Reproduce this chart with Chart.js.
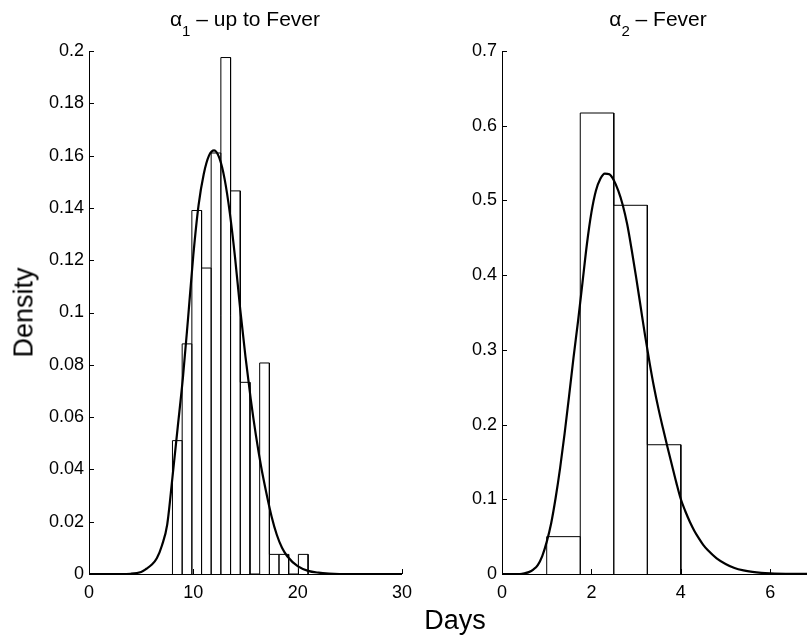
<!DOCTYPE html>
<html>
<head>
<meta charset="utf-8">
<title>Density of alpha1 and alpha2</title>
<script src="https://cdn.jsdelivr.net/npm/chart.js@4.4.1/dist/chart.umd.min.js"></script>
<style>
    html, body { margin: 0; padding: 0; background: #fff; overflow: hidden; }
    #page { position: relative; width: 807px; height: 644px; overflow: hidden; font-family: "Liberation Sans", Arial, sans-serif; color: #000; }
    .panel { position: absolute; top: 0; }
    .ttl { position: absolute; top: 9px; width: 320px; text-align: center; font-size: 21px; line-height: 20px; white-space: nowrap; }
    .ttl sub { font-size: 15px; vertical-align: -10px; line-height: 0; }
    #xlab { position: absolute; left: 355px; top: 607px; width: 200px; text-align: center; font-size: 27px; line-height: 27px; }
    #ylab { position: absolute; left: -51px; top: 299px; width: 150px; text-align: center; font-size: 27px; line-height: 27px; transform: rotate(-90deg); }
</style>
</head>
<body>
<div id="page">
    <canvas id="leftChart" class="panel" style="left:0px" width="420" height="610"></canvas>
    <canvas id="rightChart" class="panel" style="left:420px" width="420" height="610"></canvas>
    <div class="ttl" style="left:85px">&alpha;<sub>1</sub> &ndash; up to Fever</div>
    <div class="ttl" style="left:498px">&alpha;<sub>2</sub> &ndash; Fever</div>
    <div id="xlab">Days</div>
    <div id="ylab">Density</div>
</div>
<script>
// Histogram of alpha1 (days up to fever)
const upToFeverEdges = [8, 8.93, 9.86, 10.79, 11.71, 12.64, 13.57, 14.5, 15.43, 16.36, 17.29, 18.21, 19.14, 20.07, 21];
const upToFeverHeights = [0.051, 0.088, 0.139, 0.117, 0.161, 0.1975, 0.1465, 0.0733, 0, 0.0807, 0.0075, 0.0075, 0, 0.0075];

// Fitted density for alpha1
const upToFeverCurveX = [0, 3, 4, 5, 5.5, 6, 6.5, 7, 7.5, 8, 8.5, 9, 9.5, 10, 10.5, 11, 11.5, 12, 12.5, 13, 13.5, 14, 14.5, 15, 15.5, 16, 16.5, 17, 17.5, 18, 18.5, 19, 20, 21, 22, 23, 25, 30];
const upToFeverCurveY = [0, 0, 0.0001, 0.0008, 0.002, 0.0035, 0.006, 0.011, 0.019, 0.037, 0.056, 0.075, 0.098, 0.122, 0.141, 0.153, 0.160, 0.162, 0.159, 0.151, 0.138, 0.121, 0.101, 0.083, 0.067, 0.053, 0.041, 0.031, 0.022, 0.015, 0.010, 0.0068, 0.003, 0.0012, 0.0005, 0.0002, 0, 0];

// Histogram of alpha2 (fever)
const feverEdges = [1, 1.75, 2.5, 3.25, 4];
const feverHeights = [0.05, 0.617, 0.4935, 0.173];

// Fitted density for alpha2
const feverCurveX = [0, 0.4, 0.5, 0.6, 0.7, 0.8, 0.9, 1.0, 1.1, 1.2, 1.3, 1.4, 1.5, 1.6, 1.7, 1.8, 1.9, 2.0, 2.1, 2.2, 2.3, 2.4, 2.5, 2.6, 2.7, 2.8, 2.9, 3.0, 3.1, 3.2, 3.3, 3.4, 3.5, 3.6, 3.7, 3.8, 3.9, 4.0, 4.1, 4.2, 4.3, 4.4, 4.5, 4.6, 4.8, 5.0, 5.2, 5.4, 5.6, 5.8, 6.0, 6.5, 7];
const feverCurveY = [0, 0, 0.0008, 0.0025, 0.006, 0.012, 0.024, 0.043, 0.068, 0.102, 0.142, 0.188, 0.238, 0.290, 0.338, 0.390, 0.442, 0.484, 0.513, 0.529, 0.536, 0.535, 0.527, 0.513, 0.494, 0.468, 0.434, 0.397, 0.358, 0.319, 0.283, 0.250, 0.221, 0.195, 0.170, 0.146, 0.122, 0.100, 0.084, 0.070, 0.058, 0.048, 0.039, 0.032, 0.021, 0.0135, 0.008, 0.0048, 0.0028, 0.0016, 0.001, 0.0003, 0];

// Axis ranges and tick steps
const upToFeverAxis = { xMax: 30, xStep: 10, yMax: 0.2, yStep: 0.02 };
const feverAxis = { xMax: 7, xStep: 2, yMax: 0.7, yStep: 0.1 };

// Outline of histogram bars as a polyline
function histOutline(edges, heights) {
    const pts = [];
    heights.forEach((h, i) => {
        pts.push({ x: edges[i], y: 0 });
        pts.push({ x: edges[i], y: h });
        pts.push({ x: edges[i + 1], y: h });
        pts.push({ x: edges[i + 1], y: 0 });
    });
    return pts;
}

// MATLAB-style tick marks pointing into the plot
const innerTicks = {
    id: 'innerTicks',
    afterDraw(chart) {
        const { ctx, chartArea, scales } = chart;
        ctx.save();
        ctx.strokeStyle = '#000';
        ctx.lineWidth = 1;
        ctx.beginPath();
        scales.x.ticks.forEach(t => {
            const px = Math.round(scales.x.getPixelForValue(t.value)) + 0.5;
            ctx.moveTo(px, chartArea.bottom);
            ctx.lineTo(px, chartArea.bottom - 5);
        });
        scales.y.ticks.forEach(t => {
            const py = Math.round(scales.y.getPixelForValue(t.value)) + 0.5;
            ctx.moveTo(chartArea.left, py);
            ctx.lineTo(chartArea.left + 5, py);
        });
        ctx.stroke();
        ctx.restore();
    }
};

function makePanel(id, edges, heights, curveX, curveY, axis, padLeft, padRight) {
    const font = { family: '"Liberation Sans", Arial, sans-serif', size: 18 };
    return new Chart(document.getElementById(id), {
        type: 'line',
        data: {
            datasets: [
                {
                    data: curveX.map((x, i) => ({ x, y: curveY[i] })),
                    borderColor: '#000',
                    borderWidth: 2.2,
                    pointRadius: 0,
                    cubicInterpolationMode: 'monotone',
                    fill: false
                },
                {
                    data: histOutline(edges, heights),
                    borderColor: '#000',
                    borderWidth: 1,
                    pointRadius: 0,
                    tension: 0,
                    fill: false
                }
            ]
        },
        options: {
            responsive: false,
            devicePixelRatio: 1,
            animation: false,
            layout: { padding: { left: padLeft, right: padRight, top: 51, bottom: 0 } },
            plugins: { legend: { display: false }, tooltip: { enabled: false } },
            scales: {
                x: {
                    type: 'linear',
                    min: 0,
                    max: axis.xMax,
                    grid: { display: false, drawTicks: false },
                    border: { display: true, color: '#000', width: 1 },
                    ticks: { stepSize: axis.xStep, includeBounds: false, color: '#000', font, padding: 8, maxRotation: 0 },
                    afterFit: s => { s.height = 36; }
                },
                y: {
                    type: 'linear',
                    min: 0,
                    max: axis.yMax,
                    grid: { display: false, drawTicks: false },
                    border: { display: true, color: '#000', width: 1 },
                    ticks: {
                        stepSize: axis.yStep,
                        color: '#000',
                        font,
                        padding: 5,
                        callback: v => String(+v.toFixed(2))
                    },
                    afterFit: s => { s.width = 40; }
                }
            }
        },
        plugins: [innerTicks]
    });
}

makePanel('leftChart', upToFeverEdges, upToFeverHeights, upToFeverCurveX, upToFeverCurveY, upToFeverAxis, 49, 18);
makePanel('rightChart', feverEdges, feverHeights, feverCurveX, feverCurveY, feverAxis, 42, 25);
</script>
</body>
</html>
